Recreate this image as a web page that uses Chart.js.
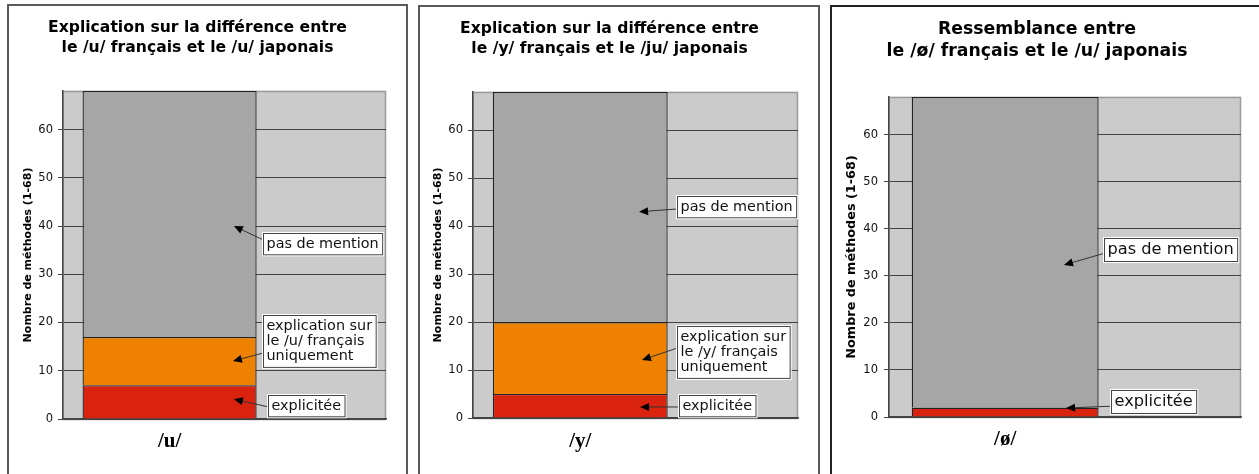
<!DOCTYPE html>
<html>
<head>
<meta charset="utf-8">
<script src="https://cdn.jsdelivr.net/npm/chart.js@4.4.0/dist/chart.umd.min.js"></script>
<style>
  body { margin: 0; background: #fff; width: 1259px; height: 474px; overflow: hidden; position: relative; }
  .frame { position: absolute; box-sizing: border-box; border: 2px solid #5a5a5a; border-bottom: none; }
  canvas { position: absolute; }
</style>
</head>
<body>
<div class="frame" style="left:7px;top:4px;width:401px;height:480px"></div>
<div class="frame" style="left:418px;top:5px;width:402px;height:480px"></div>
<div class="frame" style="left:830px;top:5px;width:432px;height:480px;border-color:#222"></div>
<canvas id="c1" width="396" height="468" style="left:9px;top:6px"></canvas>
<canvas id="c2" width="396" height="466" style="left:421px;top:8px"></canvas>
<canvas id="c3" width="424" height="466" style="left:833px;top:8px"></canvas>
<script>
const categories1 = ['/u/'];
const explicitee1 = [7];
const explicationSeule1 = [10];
const pasDeMention1 = [51];

const categories2 = ['/y/'];
const explicitee2 = [5];
const explicationSeule2 = [15];
const pasDeMention2 = [48];

const categories3 = ['/ø/'];
const explicitee3 = [2];
const pasDeMention3 = [66];

const yTicks = [0, 10, 20, 30, 40, 50, 60];

const COLORS = { explicitee: '#d9230f', explication: '#ee8200', pas: '#a6a6a6' };

// fond gris de la zone de tracé + étiquettes fléchées
const notesPlugin = {
    id: 'notes',
    beforeDraw(chart) {
        const { ctx, chartArea: a } = chart;
        ctx.save();
        ctx.fillStyle = '#cbcbcb';
        ctx.fillRect(a.left, a.top, a.right - a.left, a.bottom - a.top);
        ctx.strokeStyle = '#9a9a9a';
        ctx.lineWidth = 1.5;
        ctx.strokeRect(a.left, a.top + 0.5, a.right - a.left - 0.5, a.bottom - a.top);
        ctx.restore();
    },
    afterDraw(chart, args, opts) {
        const { ctx, scales: { x, y } } = chart;
        ctx.save();
        ctx.font = `${opts.size}px "DejaVu Sans"`;
        opts.items.forEach(n => {
            const bx = Math.round(x.getPixelForValue(n.boxX)) + 0.5;
            const by = y.getPixelForValue(n.boxY);
            const w = Math.max(...n.lines.map(l => ctx.measureText(l).width)) + 7;
            const h = n.lines.length * opts.lineH + 6;
            const top = Math.round(by - h / 2) + 0.5;

            // flèche
            const tx = bx, ty = y.getPixelForValue(n.fromY);
            const hx = x.getPixelForValue(n.toX), hy = y.getPixelForValue(n.toY);
            const ang = Math.atan2(hy - ty, hx - tx);
            ctx.strokeStyle = '#333';
            ctx.lineWidth = 1;
            ctx.beginPath();
            ctx.moveTo(tx, ty);
            ctx.lineTo(hx - 6 * Math.cos(ang), hy - 6 * Math.sin(ang));
            ctx.stroke();
            ctx.fillStyle = '#000';
            ctx.beginPath();
            ctx.moveTo(hx, hy);
            ctx.lineTo(hx - 9 * Math.cos(ang) + 4 * Math.sin(ang), hy - 9 * Math.sin(ang) - 4 * Math.cos(ang));
            ctx.lineTo(hx - 9 * Math.cos(ang) - 4 * Math.sin(ang), hy - 9 * Math.sin(ang) + 4 * Math.cos(ang));
            ctx.closePath();
            ctx.fill();

            // cadre blanc
            ctx.fillStyle = '#fff';
            ctx.fillRect(bx, top, w, h);
            ctx.strokeStyle = '#fff';
            ctx.lineWidth = 3;
            ctx.strokeRect(bx, top, w, h);
            ctx.strokeStyle = '#444';
            ctx.lineWidth = 1;
            ctx.strokeRect(bx, top, w, h);

            ctx.fillStyle = '#111';
            ctx.textBaseline = 'middle';
            ctx.textAlign = 'left';
            n.lines.forEach((l, i) => {
                ctx.fillText(l, bx + 3, top + 3 + opts.lineH * (i + 0.5));
            });
        });
        ctx.restore();
    }
};

const makeChart = (id, p) => {
    const datasets = p.series.map(s => ({
        label: s.label,
        data: s.values.map((v, i) => ({ x: i, y: v })),
        backgroundColor: s.color,
        borderColor: '#222',
        borderWidth: 1.3,
        categoryPercentage: 1,
        barPercentage: p.barPct,
    }));

    new Chart(document.getElementById(id), {
        type: 'bar',
        data: { datasets },
        plugins: [notesPlugin],
        options: {
            responsive: false,
            animation: false,
            layout: { padding: { left: 0, right: p.padRight, top: 0, bottom: 0 } },
            plugins: {
                legend: { display: false },
                tooltip: { enabled: false },
                title: {
                    display: true,
                    text: p.title,
                    color: '#000',
                    font: { family: 'DejaVu Sans', weight: 'bold', size: p.titleSize, lineHeight: p.titleLH },
                    padding: p.titlePad,
                },
                notes: p.notes,
            },
            scales: {
                x: {
                    type: 'linear',
                    stacked: true,
                    offset: false,
                    min: -0.33,
                    max: 0.67,
                    afterBuildTicks: (scale) => { scale.ticks = p.categories.map((c, i) => ({ value: i })); },
                    afterFit: (scale) => { scale.height = p.xHeight; },
                    grid: { display: false, drawTicks: false },
                    border: { color: '#444', width: 1.5 },
                    ticks: {
                        callback: (v, i) => p.categories[i],
                        color: '#000',
                        padding: p.xPad,
                        font: { family: 'Liberation Serif', weight: 'bold', size: 21 },
                    },
                },
                y: {
                    stacked: true,
                    min: 0,
                    max: 68,
                    afterBuildTicks: (scale) => { scale.ticks = yTicks.map(v => ({ value: v })); },
                    afterFit: (scale) => { scale.width = p.yWidth; },
                    grid: { color: '#444', lineWidth: 1, tickLength: 5 },
                    border: { color: '#444', width: 1.5 },
                    ticks: {
                        color: '#111',
                        padding: p.yPad,
                        font: { family: 'DejaVu Sans', size: p.tickSize },
                    },
                    title: {
                        display: true,
                        text: 'Nombre de méthodes (1-68)',
                        color: '#000',
                        font: { family: 'DejaVu Sans', weight: 'bold', size: p.yTitleSize },
                        padding: { top: p.yTitlePad, bottom: 0 },
                    },
                },
            },
        },
    });
};

makeChart('c1', {
    categories: categories1,
    series: [
        { label: 'explicitée', values: explicitee1, color: COLORS.explicitee },
        { label: 'explication sur le /u/ français uniquement', values: explicationSeule1, color: COLORS.explication },
        { label: 'pas de mention', values: pasDeMention1, color: COLORS.pas },
    ],
    title: ['Explication sur la différence entre', 'le /u/ français et le /u/ japonais'],
    titleSize: 15.6, titleLH: 1.28, titlePad: { top: 12, bottom: 33 },
    padRight: 19, xHeight: 55, yWidth: 54, xPad: 10, yPad: 5,
    tickSize: 11.5, yTitleSize: 11, yTitlePad: 12.4, barPct: 0.539,
    notes: {
        size: 14.4, lineH: 15.3,
        items: [
            { lines: ['pas de mention'], boxX: 0.289, boxY: 36.3, fromY: 37.1, toX: 0.199, toY: 40.0 },
            { lines: ['explication sur', 'le /u/ français', 'uniquement'], boxX: 0.289, boxY: 16.1, fromY: 13.7, toX: 0.196, toY: 12.0 },
            { lines: ['explicitée'], boxX: 0.305, boxY: 2.8, fromY: 2.5, toX: 0.199, toY: 4.1 },
        ],
    },
});

makeChart('c2', {
    categories: categories2,
    series: [
        { label: 'explicitée', values: explicitee2, color: COLORS.explicitee },
        { label: 'explication sur le /y/ français uniquement', values: explicationSeule2, color: COLORS.explication },
        { label: 'pas de mention', values: pasDeMention2, color: COLORS.pas },
    ],
    title: ['Explication sur la différence entre', 'le /y/ français et le /ju/ japonais'],
    titleSize: 15.6, titleLH: 1.28, titlePad: { top: 11, bottom: 33 },
    padRight: 19, xHeight: 56, yWidth: 52, xPad: 11, yPad: 5,
    tickSize: 11.5, yTitleSize: 11, yTitlePad: 10.4, barPct: 0.538,
    notes: {
        size: 14.4, lineH: 15.3,
        items: [
            { lines: ['pas de mention'], boxX: 0.298, boxY: 44.0, fromY: 43.6, toX: 0.181, toY: 43.0 },
            { lines: ['explication sur', 'le /y/ français', 'uniquement'], boxX: 0.298, boxY: 13.8, fromY: 14.6, toX: 0.19, toY: 12.1 },
            { lines: ['explicitée'], boxX: 0.304, boxY: 2.6, fromY: 2.3, toX: 0.184, toY: 2.3 },
        ],
    },
});

makeChart('c3', {
    categories: categories3,
    series: [
        { label: 'explicitée', values: explicitee3, color: COLORS.explicitee },
        { label: 'pas de mention', values: pasDeMention3, color: COLORS.pas },
    ],
    title: ['Ressemblance entre', 'le /ø/ français et le /u/ japonais'],
    titleSize: 17.3, titleLH: 1.27, titlePad: { top: 11, bottom: 34 },
    padRight: 16, xHeight: 57, yWidth: 56, xPad: 10, yPad: 6,
    tickSize: 11.5, yTitleSize: 12.8, yTitlePad: 11.3, barPct: 0.531,
    notes: {
        size: 16.2, lineH: 17,
        items: [
            { lines: ['pas de mention'], boxX: 0.281, boxY: 35.6, fromY: 34.8, toX: 0.167, toY: 32.3 },
            { lines: ['explicitée'], boxX: 0.301, boxY: 3.2, fromY: 2.3, toX: 0.173, toY: 1.9 },
        ],
    },
});
</script>
</body>
</html>
